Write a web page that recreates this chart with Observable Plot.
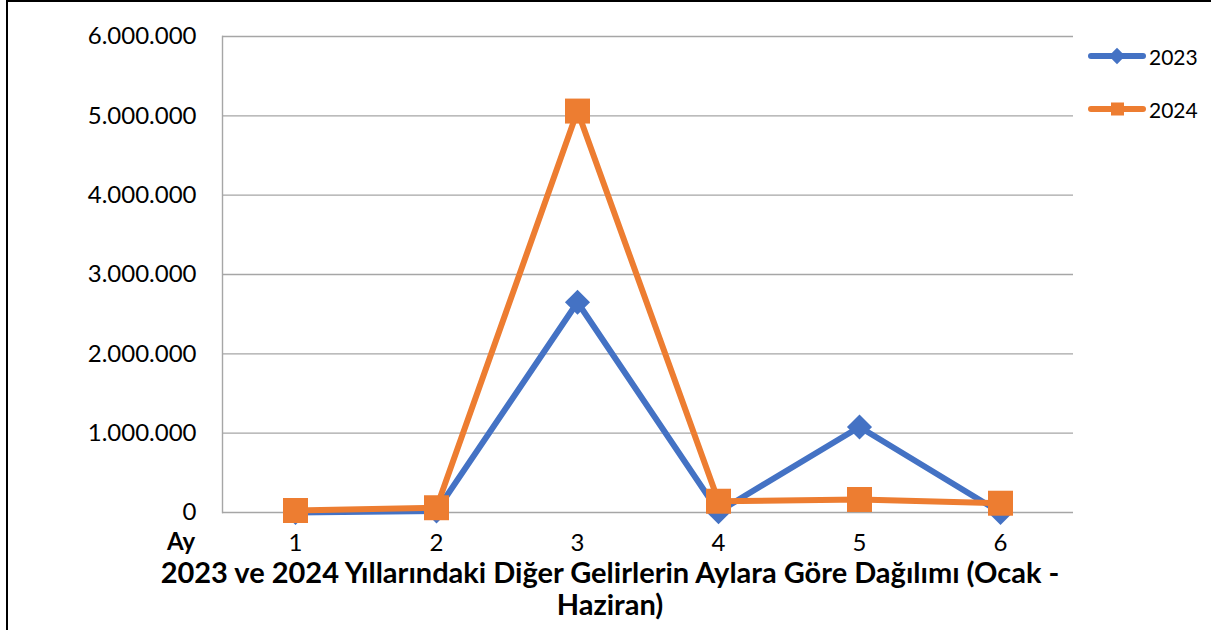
<!DOCTYPE html>
<html>
<head>
<meta charset="utf-8">
<script src="https://cdn.jsdelivr.net/npm/d3@7"></script>
<script src="https://cdn.jsdelivr.net/npm/@observablehq/plot@0.6"></script>
<style>
  html, body { margin: 0; padding: 0; background: #fff; }
  #wrap { position: relative; width: 1211px; height: 630px; overflow: hidden; font-family: Lato, "Open Sans", sans-serif; }
  #border { position: absolute; left: 6px; top: 0; width: 1220px; height: 640px; border-left: 2px solid #000; border-top: 2px solid #000; box-sizing: border-box; }
  #chart { position: absolute; left: 0; top: 0; }
  .legend { position: absolute; left: 1088px; display: flex; align-items: center; font-size: 21px; color: #000; }
  .legend svg { margin-right: 3px; }
  #ay { position: absolute; left: 167px; top: 526px; font-weight: bold; font-size: 24px; }
  #title { position: absolute; left: 60px; width: 1100px; top: 556px; text-align: center; font-weight: bold; font-size: 29px; line-height: 32px; }
</style>
</head>
<body>
<div id="wrap">
  <div id="border"></div>
  <div id="chart"></div>
  <div id="legend"></div>
  <div id="ay">Ay</div>
  <div id="title">2023 ve 2024 Yıllarındaki Diğer Gelirlerin Aylara Göre Dağılımı (Ocak -<br>Haziran)</div>
</div>
<script>
const months = [1, 2, 3, 4, 5, 6];
const seriesNames = ["2023", "2024"];
const values2023 = [0, 20000, 2650000, 10000, 1078000, 0];
const values2024 = [25000, 60000, 5060000, 142000, 164000, 117000];
const yTicks = [0, 1000000, 2000000, 3000000, 4000000, 5000000, 6000000];
const colors = ["#4472C4", "#ED7D31"];

const data = [];
months.forEach((m, i) => {
  data.push({month: m, series: "2023", value: values2023[i]});
  data.push({month: m, series: "2024", value: values2024[i]});
});

const fmt = d3.formatLocale({decimal: ",", thousands: ".", grouping: [3], currency: ["", ""]}).format(",d");
const diamond = d3.symbolDiamond2;

const plot = Plot.plot({
  width: 1211,
  height: 630,
  marginLeft: 222,
  marginRight: 138,
  marginTop: 36,
  marginBottom: 118,
  style: {fontFamily: "Lato, 'Open Sans', sans-serif", background: "transparent"},
  x: {type: "point", domain: months, padding: 0.5},
  y: {domain: [0, 6000000], ticks: yTicks},
  color: {domain: seriesNames, range: colors},
  marks: [
    Plot.ruleY(yTicks, {stroke: "#a6a6a6", strokeWidth: 1.4}),
    Plot.frame({anchor: "left", stroke: "#a6a6a6", strokeWidth: 1.4}),
    Plot.axisY({ticks: yTicks, tickSize: 0, tickPadding: 26, tickFormat: fmt, fontSize: 24, color: "#000", label: null}),
    Plot.axisX({tickSize: 0, tickPadding: 21, fontSize: 24, color: "#000", label: null}),
    Plot.line(data.filter(d => d.series === "2023"), {x: "month", y: "value", stroke: colors[0], strokeWidth: 6, strokeLinejoin: "round", strokeLinecap: "round"}),
    Plot.line(data.filter(d => d.series === "2024"), {x: "month", y: "value", stroke: colors[1], strokeWidth: 6, strokeLinejoin: "round", strokeLinecap: "round"}),
    Plot.dot(data.filter(d => d.series === "2023"), {x: "month", y: "value", fill: colors[0], symbol: diamond, r: 11.3, stroke: "none"}),
    Plot.dot(data.filter(d => d.series === "2024"), {x: "month", y: "value", fill: colors[1], symbol: "square", r: 14.1, stroke: "none"})
  ]
});
document.getElementById("chart").appendChild(plot);

// legend
const legend = document.getElementById("legend");
const legendTops = [43, 96];
seriesNames.forEach((name, i) => {
  const item = document.createElement("div");
  item.className = "legend";
  item.style.top = legendTops[i] + "px";
  const svg = d3.create("svg").attr("width", 58).attr("height", 26);
  svg.append("line").attr("x1", 3).attr("x2", 55).attr("y1", 13).attr("y2", 13)
    .attr("stroke", colors[i]).attr("stroke-width", 6).attr("stroke-linecap", "round");
  if (i === 0) {
    svg.append("path").attr("d", d3.symbol(d3.symbolDiamond2, 170)()).attr("transform", "translate(29,13)").attr("fill", colors[i]);
  } else {
    svg.append("rect").attr("x", 23).attr("y", 6.5).attr("width", 13).attr("height", 13).attr("fill", colors[i]);
  }
  item.appendChild(svg.node());
  const t = document.createElement("span");
  t.textContent = name;
  item.appendChild(t);
  legend.appendChild(item);
});
</script>
</body>
</html>
